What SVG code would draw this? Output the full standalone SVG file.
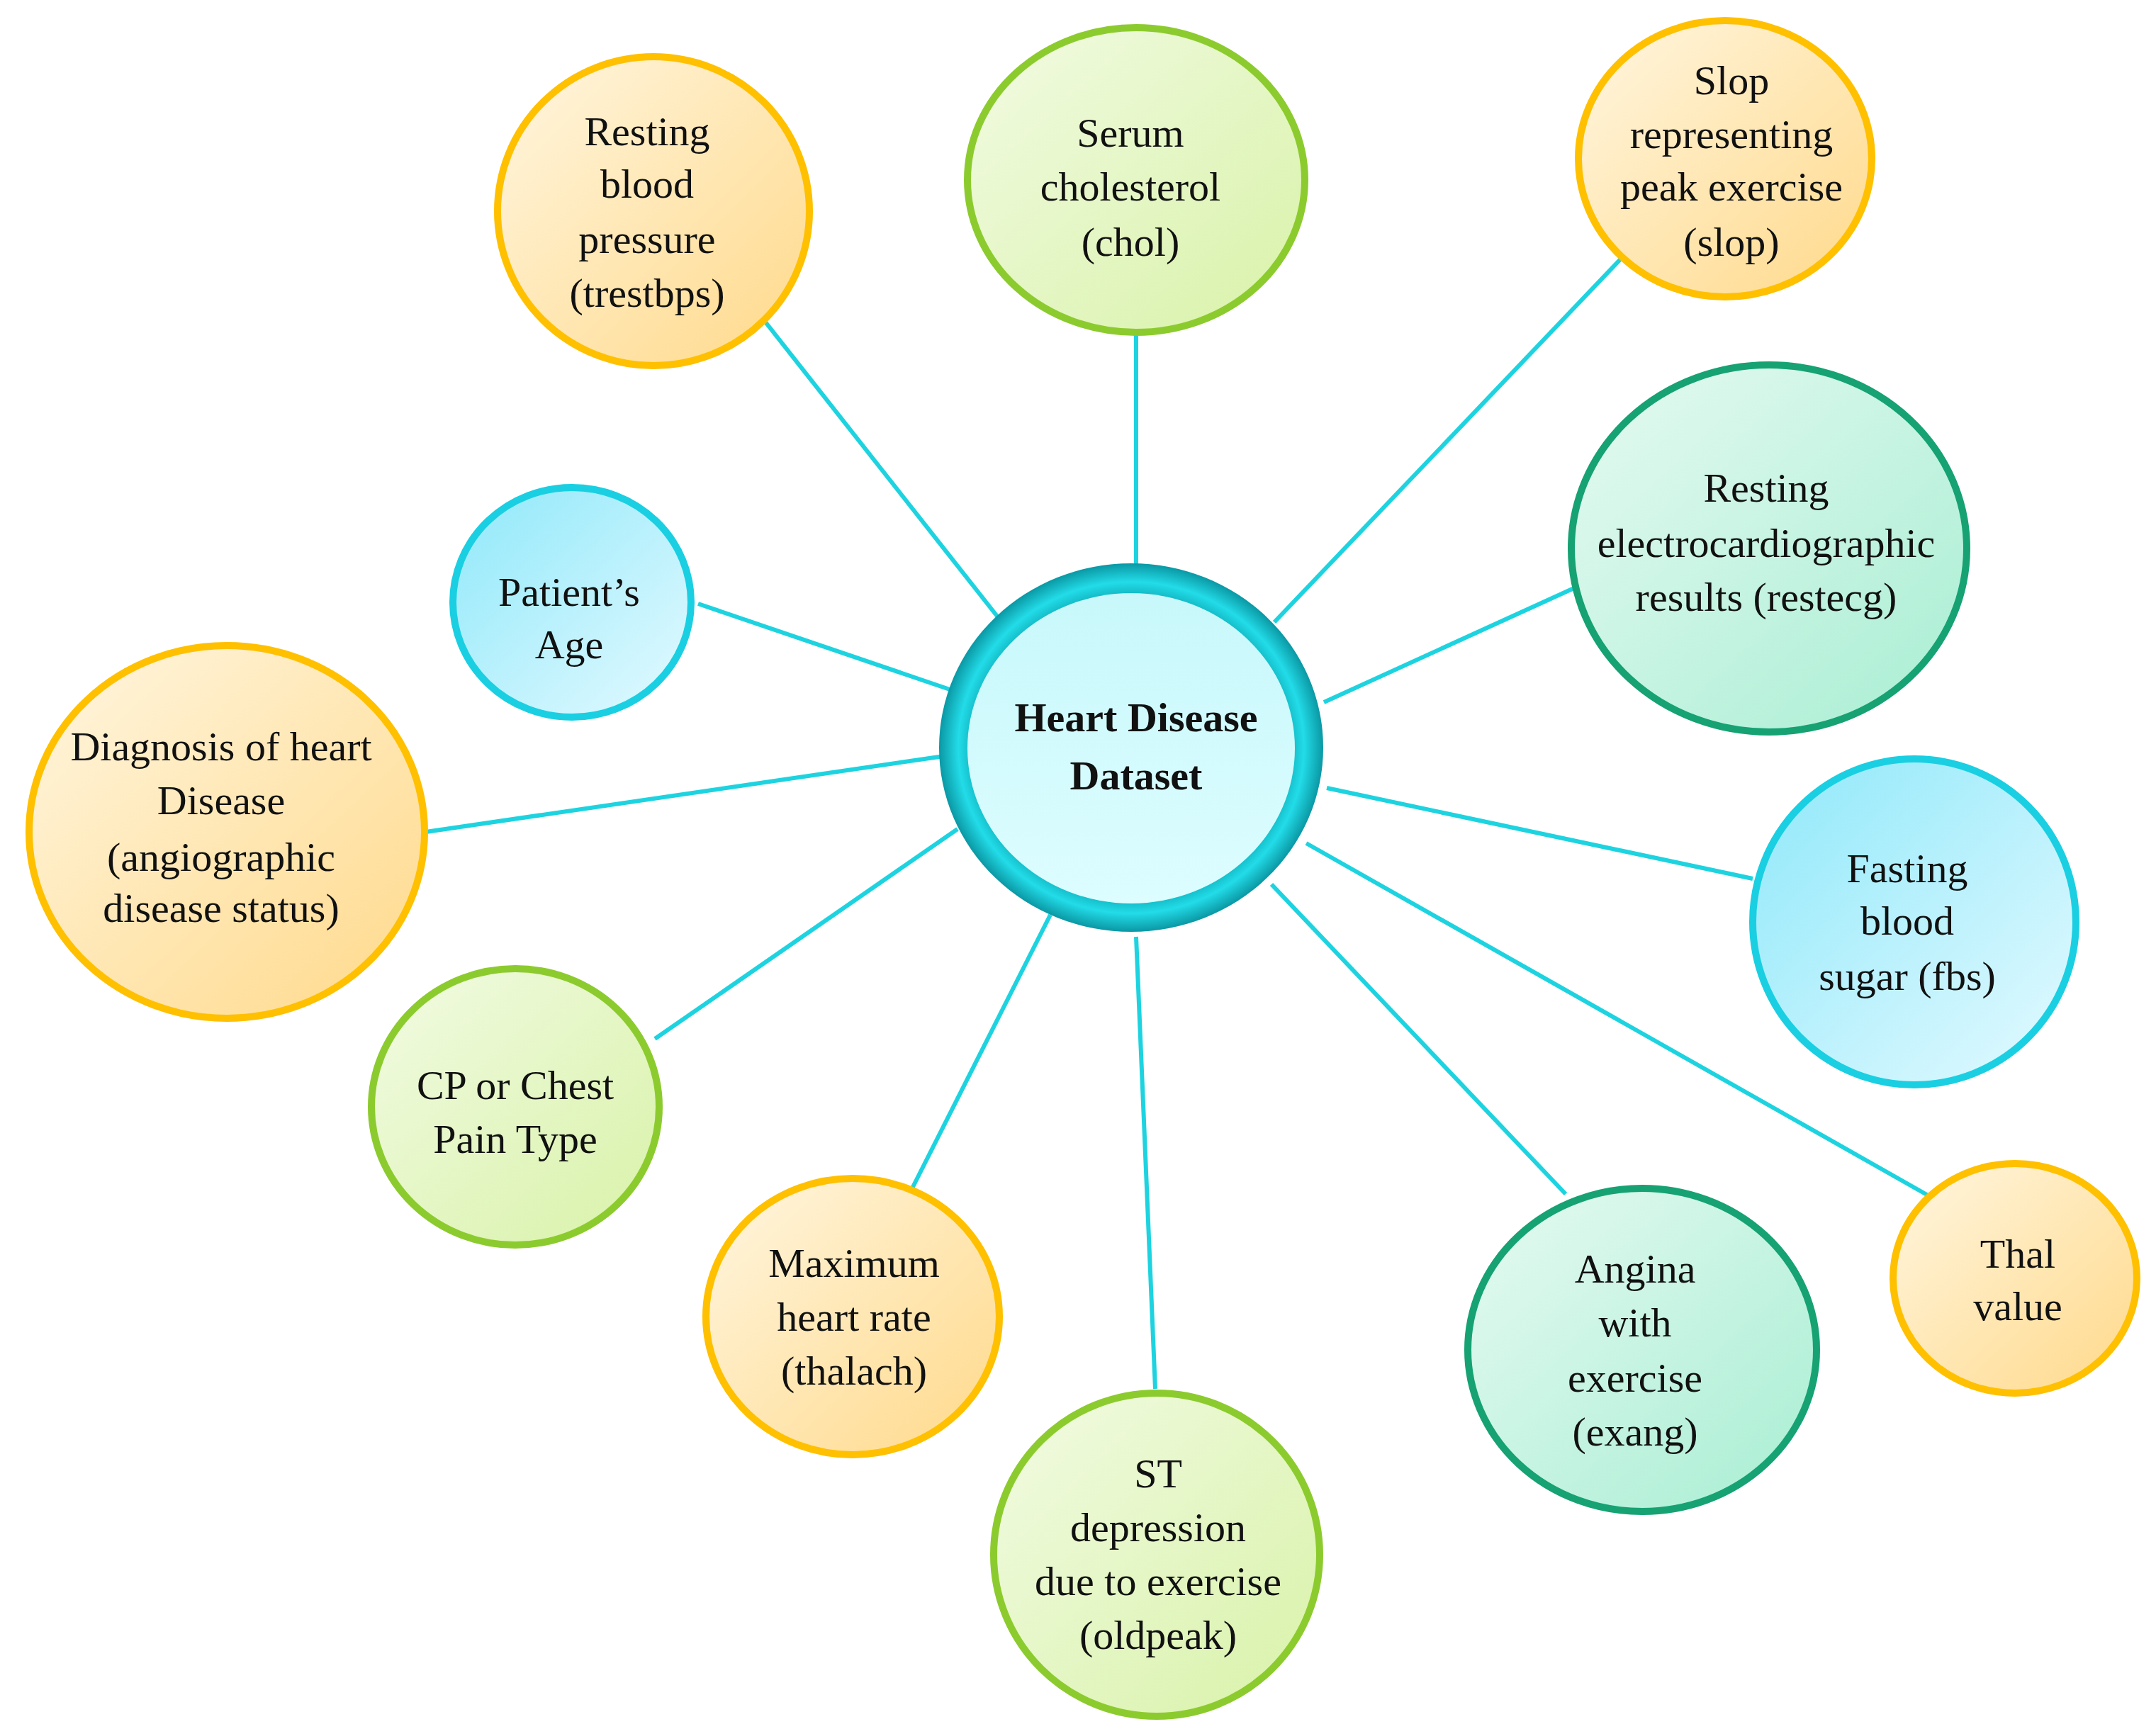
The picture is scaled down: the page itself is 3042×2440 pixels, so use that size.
<svg xmlns="http://www.w3.org/2000/svg" width="3042" height="2440" viewBox="0 0 3042 2440">
<defs>
<linearGradient id="go" x1="1" y1="1" x2="0" y2="0"><stop offset="0" stop-color="#FFD98A"/><stop offset="1" stop-color="#FFF6E0"/></linearGradient>
<linearGradient id="gg" x1="1" y1="1" x2="0" y2="0"><stop offset="0" stop-color="#D8F2A8"/><stop offset="1" stop-color="#F2FBE3"/></linearGradient>
<linearGradient id="gt" x1="1" y1="1" x2="0" y2="0"><stop offset="0" stop-color="#A8EED3"/><stop offset="1" stop-color="#E6FAF2"/></linearGradient>
<linearGradient id="gb" x1="0" y1="0" x2="1" y2="1"><stop offset="0" stop-color="#8FE8FA"/><stop offset="1" stop-color="#E4FAFF"/></linearGradient>
<radialGradient id="ring" cx="0.5" cy="0.5" r="0.5"><stop offset="0.8" stop-color="#0BA9B4"/><stop offset="0.9" stop-color="#22DCE8"/><stop offset="1" stop-color="#0A98A4"/></radialGradient>
<linearGradient id="inner" x1="0" y1="0" x2="0" y2="1"><stop offset="0" stop-color="#C8F8FB"/><stop offset="1" stop-color="#DDFDFF"/></linearGradient>
</defs>
<style>
.o{fill:url(#go);stroke:#FFC000;stroke-width:10}
.g{fill:url(#gg);stroke:#8CCB2E;stroke-width:10}
.t{fill:url(#gt);stroke:#16A273;stroke-width:10}
.b{fill:url(#gb);stroke:#1ACFE2;stroke-width:10}
text{font-family:"Liberation Serif","Times New Roman",serif;font-size:58px;fill:#111;text-anchor:middle;dominant-baseline:central}
.c line{stroke:#1ED3E0;stroke-width:6}
</style>
<rect width="3042" height="2440" fill="#fff"/>
<g class="c" id="connectors">
<line x1="1078" y1="452" x2="1412" y2="876"/>
<line x1="1603" y1="468" x2="1603" y2="800"/>
<line x1="2291" y1="361" x2="1798" y2="878"/>
<line x1="2223" y1="829" x2="1868" y2="991"/>
<line x1="2473" y1="1240" x2="1872" y2="1112"/>
<line x1="2724" y1="1689" x2="1843" y2="1190"/>
<line x1="2209" y1="1685" x2="1794" y2="1248"/>
<line x1="1603" y1="1322" x2="1630" y2="1960"/>
<line x1="1482" y1="1291" x2="1285" y2="1681"/>
<line x1="1351" y1="1170" x2="924" y2="1466"/>
<line x1="601" y1="1174" x2="1332" y2="1067"/>
<line x1="985" y1="852" x2="1346" y2="975"/>
</g>
<g id="center"><ellipse cx="1596" cy="1055" rx="271" ry="260" fill="url(#ring)"/><ellipse cx="1596" cy="1056" rx="231" ry="219" fill="url(#inner)"/><text x="1603" y="1012" font-weight="bold" font-size="60">Heart Disease</text><text x="1603" y="1094" font-weight="bold" font-size="60">Dataset</text></g>
<g id="rbp"><ellipse class="o" cx="922" cy="298" rx="220" ry="218"/><text x="913" y="185">Resting</text><text x="913" y="259">blood</text><text x="913" y="337">pressure</text><text x="913" y="413">(trestbps)</text></g>
<g id="chol"><ellipse class="g" cx="1603" cy="254" rx="238" ry="215"/><text x="1595" y="187">Serum</text><text x="1595" y="263">cholesterol</text><text x="1595" y="341">(chol)</text></g>
<g id="slop"><ellipse class="o" cx="2434" cy="224" rx="207" ry="195"/><text x="2443" y="113">Slop</text><text x="2443" y="189">representing</text><text x="2443" y="263">peak exercise</text><text x="2443" y="341">(slop)</text></g>
<g id="restecg"><ellipse class="t" cx="2496" cy="774" rx="279" ry="259"/><text x="2492" y="688">Resting</text><text x="2492" y="766">electrocardiographic</text><text x="2492" y="842">results (restecg)</text></g>
<g id="fbs"><ellipse class="b" cx="2701" cy="1301" rx="228" ry="230"/><text x="2691" y="1225">Fasting</text><text x="2691" y="1299">blood</text><text x="2691" y="1377">sugar (fbs)</text></g>
<g id="thal"><ellipse class="o" cx="2843" cy="1804" rx="172" ry="162"/><text x="2847" y="1769">Thal</text><text x="2847" y="1843">value</text></g>
<g id="exang"><ellipse class="t" cx="2317" cy="1905" rx="246" ry="228"/><text x="2307" y="1790">Angina</text><text x="2307" y="1866">with</text><text x="2307" y="1944">exercise</text><text x="2307" y="2020">(exang)</text></g>
<g id="oldpeak"><ellipse class="g" cx="1632" cy="2194" rx="230" ry="228"/><text x="1634" y="2079">ST</text><text x="1634" y="2155">depression</text><text x="1634" y="2231">due to exercise</text><text x="1634" y="2307">(oldpeak)</text></g>
<g id="thalach"><ellipse class="o" cx="1203" cy="1858" rx="207" ry="195"/><text x="1205" y="1782">Maximum</text><text x="1205" y="1858">heart rate</text><text x="1205" y="1934">(thalach)</text></g>
<g id="cp"><ellipse class="g" cx="727" cy="1562" rx="203" ry="195"/><text x="727" y="1531">CP or Chest</text><text x="727" y="1607">Pain Type</text></g>
<g id="diag"><ellipse class="o" cx="320" cy="1174" rx="279" ry="263"/><text x="312" y="1053">Diagnosis of heart</text><text x="312" y="1129">Disease</text><text x="312" y="1209">(angiographic</text><text x="312" y="1281">disease status)</text></g>
<g id="age"><ellipse class="b" cx="807" cy="850" rx="168" ry="162"/><text x="803" y="835">Patient’s</text><text x="803" y="909">Age</text></g>
</svg>
